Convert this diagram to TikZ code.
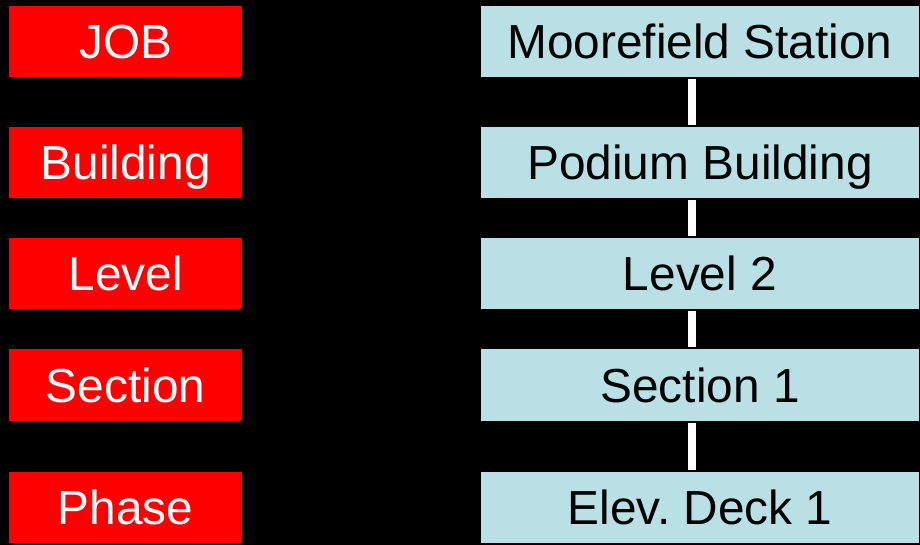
\documentclass[tikz,border=0pt]{standalone}
\usepackage{fontspec}
\setmainfont{Liberation Sans}
\usetikzlibrary{positioning}
\definecolor{deckblue}{RGB}{185,224,228}

\begin{document}
\begin{tikzpicture}[x = 1pt, y = 1pt,
  tierbox/.style = {fill = red, text = white, minimum width = 232.5pt, minimum height = 71.5pt, inner sep = 0pt, text height = 34.5pt, text depth = 0pt, font = \fontsize{47.8}{56}\selectfont},
  valbox/.style = {fill = deckblue, text = black, minimum width = 438pt, minimum height = 71.5pt, inner sep = 0pt, text height = 34.5pt, text depth = 0pt, font = \fontsize{47.8}{56}\selectfont},
  link/.style = {white, line width = 8pt, shorten < = 2pt, shorten > = 2pt}]
\fill[black] (0,0) rectangle (920,545);
\node[tierbox] (job) at (125.7,503.5) {JOB};
\node[tierbox] (bldg) at (125.7,382.5) {Building};
\node[tierbox] (lvl) at (125.7,271.5) {Level};
\node[tierbox] (sect) at (125.7,160) {Section};
\node[tierbox] (phase) at (125.7,37.5) {Phase};
\node[valbox] (station) at (700,503.5) {Moorefield Station};
\node[valbox] (podium) at (700,382.5) {Podium Building};
\node[valbox] (lvltwo) at (700,271.5) {Level 2};
\node[valbox] (sectone) at (700,160) {Section 1};
\node[valbox] (deck) at (700,37.5) {Elev.\ Deck 1};
\draw[link] ([xshift = -8pt]station.south) -- ([xshift = -8pt]podium.north);
\draw[link] ([xshift = -8pt]podium.south) -- ([xshift = -8pt]lvltwo.north);
\draw[link] ([xshift = -8pt]lvltwo.south) -- ([xshift = -8pt]sectone.north);
\draw[link] ([xshift = -8pt]sectone.south) -- ([xshift = -8pt]deck.north);
\end{tikzpicture}
\end{document}
